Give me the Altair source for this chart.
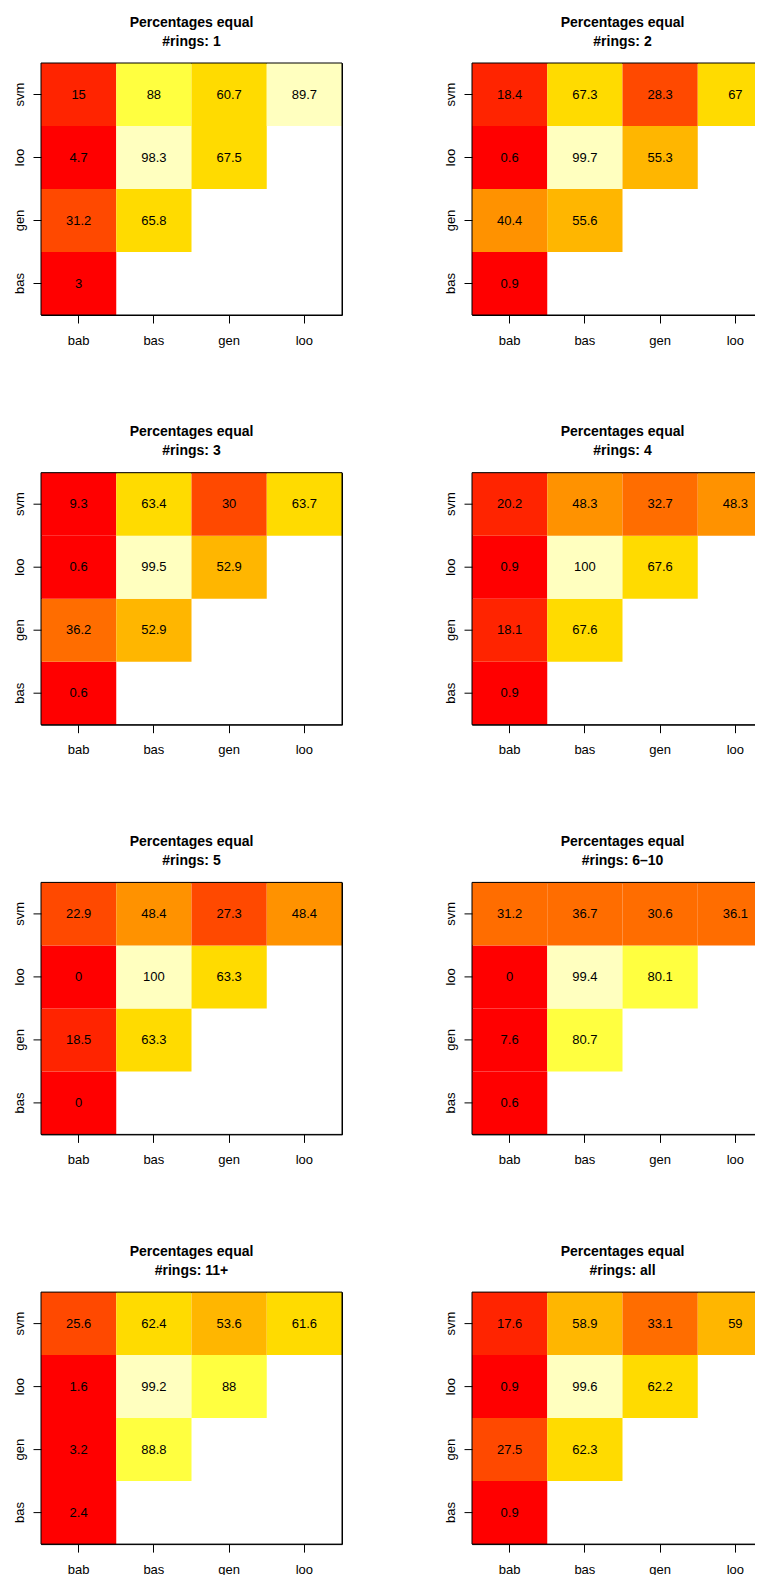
import altair as alt
import pandas as pd

# cell positions (lower triangle of pairwise comparison)
x_cells = ["bab", "bab", "bab", "bab", "bas", "bas", "bas", "gen", "gen", "loo"]
y_cells = ["bas", "gen", "loo", "svm", "gen", "loo", "svm", "loo", "svm", "svm"]
x_labels = ["bab", "bas", "gen", "loo"]
y_labels = ["svm", "loo", "gen", "bas"]  # top to bottom

# R heat.colors(10)
heat_colors = ["#FF0000", "#FF2400", "#FF4900", "#FF6D00", "#FF9200",
               "#FFB600", "#FFDB00", "#FFFF00", "#FFFF40", "#FFFFBF"]

panel_labels = ["1", "2", "3", "4", "5", "6\u201310", "11+", "all"]
v_1 = [3, 31.2, 4.7, 15, 65.8, 98.3, 88, 67.5, 60.7, 89.7]
v_2 = [0.9, 40.4, 0.6, 18.4, 55.6, 99.7, 67.3, 55.3, 28.3, 67]
v_3 = [0.6, 36.2, 0.6, 9.3, 52.9, 99.5, 63.4, 52.9, 30, 63.7]
v_4 = [0.9, 18.1, 0.9, 20.2, 67.6, 100, 48.3, 67.6, 32.7, 48.3]
v_5 = [0, 18.5, 0, 22.9, 63.3, 100, 48.4, 63.3, 27.3, 48.4]
v_6 = [0.6, 7.6, 0, 31.2, 80.7, 99.4, 36.7, 80.1, 30.6, 36.1]
v_7 = [2.4, 3.2, 1.6, 25.6, 88.8, 99.2, 62.4, 88, 53.6, 61.6]
v_8 = [0.9, 27.5, 0.9, 17.6, 62.3, 99.6, 58.9, 62.2, 33.1, 59]
panel_values = [v_1, v_2, v_3, v_4, v_5, v_6, v_7, v_8]

FONT = "Liberation Sans"
PW, PH = 301, 252


def panel(label, vals):
    df = pd.DataFrame({"x": x_cells, "y": y_cells, "v": vals})
    base = alt.Chart(df).encode(
        x=alt.X("x:N",
                scale=alt.Scale(domain=x_labels, paddingInner=0, paddingOuter=0),
                axis=alt.Axis(title=None, labelAngle=0, labelPadding=11,
                              bandPosition=0.5)),
        y=alt.Y("y:N",
                scale=alt.Scale(domain=y_labels, paddingInner=0, paddingOuter=0),
                axis=alt.Axis(title=None, labelAngle=270, labelAlign="center",
                              labelBaseline="alphabetic", labelPadding=9.5,
                              bandPosition=0.5)),
    )
    rect = base.mark_rect(strokeWidth=0).encode(
        color=alt.Color("v:Q",
                        scale=alt.Scale(type="quantize", range=heat_colors,
                                        zero=False, nice=False),
                        legend=None)
    )
    text = base.mark_text(fontSize=13, font=FONT, color="black").encode(
        text=alt.Text("v:Q", format=".1~f")
    )
    # box drawn on top of the cells, as R's box()
    frame = alt.Chart(pd.DataFrame({"f": [0]})).mark_rect(
        fill=None, stroke="black", strokeWidth=1
    ).encode(
        x=alt.value(0), x2=alt.value(PW), y=alt.value(0), y2=alt.value(PH)
    )
    return (rect + text + frame).properties(
        width=PW, height=PH,
        title=alt.TitleParams(["Percentages equal", "#rings: " + label],
                              fontSize=14, fontWeight="bold", font=FONT,
                              color="black", anchor="middle", lineHeight=19,
                              offset=14),
    )


panels = [panel(l, v) for l, v in zip(panel_labels, panel_values)]

chart = alt.concat(
    *panels, columns=2, spacing={"row": 157.7, "column": 130}, bounds="flush"
).resolve_scale(
    color="independent"
).properties(
    background="white",
    autosize=alt.AutoSizeParams(type="none"),
    padding={"left": 33, "top": 55, "right": 714, "bottom": 1512},
).configure_view(
    stroke="black", strokeWidth=1
).configure_axis(
    domain=False, grid=False, tickColor="black", tickSize=8, tickWidth=1,
    labelFont=FONT, labelFontSize=13, labelColor="black"
)

chart.save("out.html", embed_options={"renderer": "svg", "actions": False})
